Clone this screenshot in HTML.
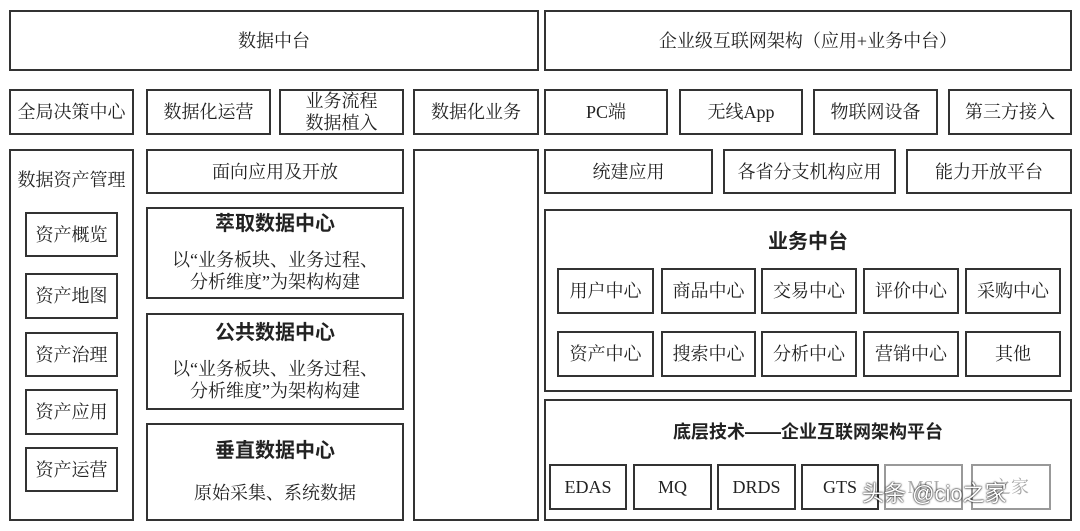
<!DOCTYPE html><html><head><meta charset="utf-8"><style>
body{margin:0;width:1080px;height:531px;background:#fff;position:relative;overflow:hidden;font-family:"Liberation Serif","Noto Serif CJK SC",serif;color:#222}
.b{position:absolute;border:2px solid #333;box-sizing:border-box;display:flex;align-items:center;justify-content:center;text-align:center;font-size:18px;line-height:22px}
.t{position:absolute;text-align:center;font-size:18px;line-height:24px}
.h{font-weight:bold;font-size:20px;font-family:"Liberation Sans","Noto Sans CJK SC",sans-serif}
</style></head><body>
<div class="b" style="left:9px;top:10px;width:530px;height:61px">数据中台</div>
<div class="b" style="left:544px;top:10px;width:528px;height:61px">企业级互联网架构（应用+业务中台）</div>
<div class="b" style="left:9px;top:89px;width:125px;height:46px">全局决策中心</div>
<div class="b" style="left:146px;top:89px;width:125px;height:46px">数据化运营</div>
<div class="b" style="left:279px;top:89px;width:125px;height:46px">业务流程<br>数据植入</div>
<div class="b" style="left:413px;top:89px;width:126px;height:46px">数据化业务</div>
<div class="b" style="left:544px;top:89px;width:124px;height:46px">PC端</div>
<div class="b" style="left:679px;top:89px;width:124px;height:46px">无线App</div>
<div class="b" style="left:813px;top:89px;width:125px;height:46px">物联网设备</div>
<div class="b" style="left:948px;top:89px;width:124px;height:46px">第三方接入</div>
<div class="b" style="left:9px;top:149px;width:125px;height:372px;align-items:flex-start;padding-top:18px">数据资产管理</div>
<div class="b" style="left:25px;top:212px;width:93px;height:45px">资产概览</div>
<div class="b" style="left:25px;top:273px;width:93px;height:46px">资产地图</div>
<div class="b" style="left:25px;top:332px;width:93px;height:45px">资产治理</div>
<div class="b" style="left:25px;top:389px;width:93px;height:46px">资产应用</div>
<div class="b" style="left:25px;top:447px;width:93px;height:45px">资产运营</div>
<div class="b" style="left:146px;top:149px;width:258px;height:45px">面向应用及开放</div>
<div class="b" style="left:146px;top:207px;width:258px;height:92px;flex-direction:column"><div class="h" style="margin-bottom:14px">萃取数据中心</div>以“业务板块、业务过程、<br>分析维度”为架构构建</div>
<div class="b" style="left:146px;top:313px;width:258px;height:97px;flex-direction:column"><div class="h" style="margin-bottom:14px">公共数据中心</div>以“业务板块、业务过程、<br>分析维度”为架构构建</div>
<div class="b" style="left:146px;top:423px;width:258px;height:98px;flex-direction:column"><div class="h" style="margin-bottom:20px">垂直数据中心</div>原始采集、系统数据</div>
<div class="b" style="left:413px;top:149px;width:126px;height:372px"></div>
<div class="b" style="left:544px;top:149px;width:169px;height:45px">统建应用</div>
<div class="b" style="left:723px;top:149px;width:173px;height:45px">各省分支机构应用</div>
<div class="b" style="left:906px;top:149px;width:166px;height:45px">能力开放平台</div>
<div class="b" style="left:544px;top:209px;width:528px;height:183px;align-items:flex-start;padding-top:20px"><span class="h">业务中台</span></div>
<div class="b" style="left:557px;top:268px;width:97px;height:46px">用户中心</div>
<div class="b" style="left:661px;top:268px;width:95px;height:46px">商品中心</div>
<div class="b" style="left:761px;top:268px;width:96px;height:46px">交易中心</div>
<div class="b" style="left:863px;top:268px;width:96px;height:46px">评价中心</div>
<div class="b" style="left:965px;top:268px;width:96px;height:46px">采购中心</div>
<div class="b" style="left:557px;top:331px;width:97px;height:46px">资产中心</div>
<div class="b" style="left:661px;top:331px;width:95px;height:46px">搜索中心</div>
<div class="b" style="left:761px;top:331px;width:96px;height:46px">分析中心</div>
<div class="b" style="left:863px;top:331px;width:96px;height:46px">营销中心</div>
<div class="b" style="left:965px;top:331px;width:96px;height:46px">其他</div>
<div class="b" style="left:544px;top:399px;width:528px;height:122px;align-items:flex-start;padding-top:20px"><span class="h" style="font-size:18px">底层技术——企业互联网架构平台</span></div>
<div class="b" style="left:549px;top:464px;width:78px;height:46px">EDAS</div>
<div class="b" style="left:633px;top:464px;width:79px;height:46px">MQ</div>
<div class="b" style="left:717px;top:464px;width:79px;height:46px">DRDS</div>
<div class="b" style="left:801px;top:464px;width:78px;height:46px">GTS</div>
<div class="b" style="left:884px;top:464px;width:79px;height:46px;border-color:#999;color:#aaa">MSI</div>
<div class="b" style="left:971px;top:464px;width:80px;height:46px;border-color:#999;color:#aaa">之家</div>
<div class="t" style="left:862px;top:482px;font-size:22px;color:#fff;font-family:'Liberation Sans','Noto Sans CJK SC',sans-serif;text-shadow:0 0 2px #000,0 0 1px #000">头条 @cio之家</div>
</body></html>
